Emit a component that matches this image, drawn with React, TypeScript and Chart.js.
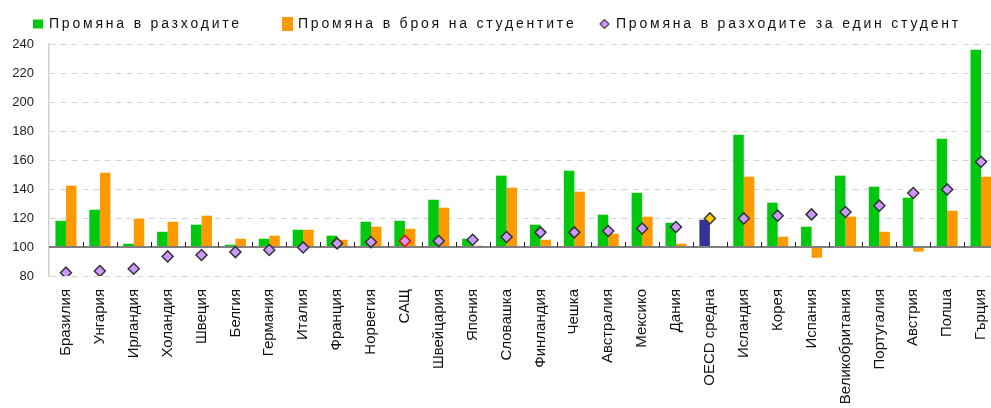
import React, { useEffect, useRef } from 'react';
import { Chart, registerables } from 'chart.js';

Chart.register(...registerables);

const FONT = '"Liberation Sans", Arial, sans-serif';

const categories = [
  'Бразилия', 'Унгария', 'Ирландия', 'Холандия', 'Швеция', 'Белгия', 'Германия',
  'Италия', 'Франция', 'Норвегия', 'САЩ', 'Швейцария', 'Япония', 'Словашка',
  'Финландия', 'Чешка', 'Австралия', 'Мексико', 'Дания', 'OECD средна',
  'Исландия', 'Корея', 'Испания', 'Великобритания', 'Португалия', 'Австрия',
  'Полша', 'Гърция',
];

const seriesLabels = [
  'Промяна в разходите',
  'Промяна в броя на студентите',
  'Промяна в разходите за един студент',
];

const expenditureChange = [
  118.1, 125.7, 102.3, 110.5, 115.4, 101.6, 105.7, 111.9, 107.8, 117.4, 118.1,
  132.6, 105.7, 149.2, 115.4, 152.6, 122.3, 137.4, 116.7, 118.8, 177.4, 130.6,
  114.0, 149.2, 141.6, 134.0, 174.7, 236.0,
];

const studentChange = [
  142.3, 151.2, 119.5, 117.4, 121.6, 105.7, 107.8, 111.9, 105.0, 114.0, 112.6,
  127.1, 100.9, 140.9, 105.0, 138.1, 109.2, 120.9, 102.3, null, 148.5, 107.1,
  92.6, 120.9, 110.5, 96.8, 125.0, 148.5,
];

const perStudentChange = [
  82.3, 83.4, 85.0, 93.5, 94.5, 96.5, 97.9, 99.7, 102.5, 103.4, 104.1, 104.1,
  105.0, 106.9, 110.1, 110.1, 111.0, 112.8, 113.8, 119.7, 119.7, 121.6, 122.5,
  124.1, 128.5, 137.2, 139.7, 158.8,
];

const yMin = 80;
const yMax = 240;
const yStep = 20;
const baseValue = 100;

const GREEN = '#00c80f';
const ORANGE = '#ff9900';
const BLUE = '#333399';
const LAVENDER = '#cc99ff';
const GOLD = '#ffcc00';
const OECD = 'OECD средна';
const USA = 'САЩ';

const legendStarts = [33, 282, 600];

const legendPlugin = {
  id: 'customLegend',
  afterDraw(chart: any) {
    const ctx = chart.ctx;
    const ds = chart.data.datasets;
    ctx.save();
    ctx.font = `14px ${FONT}`;
    (ctx as any).letterSpacing = '2.8px';
    ctx.textBaseline = 'middle';
    ctx.textAlign = 'left';
    const y = 24;
    const markers = [
      { kind: 'box', color: GREEN, w: 10, h: 9, gap: 6 },
      { kind: 'box', color: ORANGE, w: 11, h: 14, gap: 5 },
      { kind: 'diamond', color: LAVENDER, w: 9, h: 9, gap: 7 },
    ];
    ds.forEach((d: any, i: number) => {
      const m = markers[i];
      let x = legendStarts[i];
      if (m.kind === 'box') {
        ctx.fillStyle = m.color;
        ctx.fillRect(x, y - m.h / 2, m.w, m.h);
      } else {
        const cx = x + 4.5;
        ctx.beginPath();
        ctx.moveTo(cx - 4.5, y);
        ctx.lineTo(cx, y - 4.5);
        ctx.lineTo(cx + 4.5, y);
        ctx.lineTo(cx, y + 4.5);
        ctx.closePath();
        ctx.fillStyle = m.color;
        ctx.fill();
        ctx.strokeStyle = '#444';
        ctx.lineWidth = 1.2;
        ctx.stroke();
      }
      x += m.w + m.gap;
      ctx.fillStyle = '#111';
      ctx.fillText(d.label, x, y);
    });
    ctx.restore();
  },
};

const baselinePlugin = {
  id: 'baseline',
  beforeDatasetDraw(chart: any, args: any) {
    if (args.index !== 2) return;
    const { ctx, chartArea, scales } = chart;
    const xs = scales.x;
    const y100 = scales.y.getPixelForValue(baseValue);
    ctx.save();
    ctx.strokeStyle = '#7f7f7f';
    ctx.lineWidth = 2;
    ctx.beginPath();
    ctx.moveTo(chartArea.left, y100);
    ctx.lineTo(chartArea.right, y100);
    ctx.stroke();
    ctx.strokeStyle = '#222';
    ctx.lineWidth = 1;
    for (let i = 1; i < categories.length; i++) {
      const xb = Math.round((xs.getPixelForValue(i - 1) + xs.getPixelForValue(i)) / 2) + 0.5;
      ctx.beginPath();
      ctx.moveTo(xb, y100 - 5);
      ctx.lineTo(xb, y100);
      ctx.stroke();
    }
    ctx.restore();
  },
};

export default function App() {
  const canvasRef = useRef<HTMLCanvasElement | null>(null);

  useEffect(() => {
    if (!canvasRef.current) return;
    const chart = new Chart(canvasRef.current, {
      type: 'bar',
      data: {
        labels: categories,
        datasets: [
          {
            type: 'bar',
            label: seriesLabels[0],
            data: expenditureChange,
            base: baseValue,
            backgroundColor: categories.map((c) => (c === OECD ? BLUE : GREEN)),
            order: 1,
          } as any,
          {
            type: 'bar',
            label: seriesLabels[1],
            data: studentChange,
            base: baseValue,
            backgroundColor: ORANGE,
            order: 1,
          } as any,
          {
            type: 'line',
            label: seriesLabels[2],
            data: perStudentChange,
            showLine: false,
            pointStyle: 'rectRot',
            pointRadius: 5.5,
            pointHoverRadius: 5.5,
            pointBorderWidth: 1.5,
            pointBackgroundColor: categories.map((c) => (c === OECD ? GOLD : LAVENDER)),
            pointBorderColor: categories.map((c) => (c === USA ? '#ff0000' : '#333333')),
            order: 0,
          } as any,
        ],
      },
      options: {
        animation: false,
        responsive: true,
        maintainAspectRatio: false,
        layout: { padding: { left: 12, right: 1, top: 44, bottom: 0 } },
        datasets: { bar: { categoryPercentage: 0.62, barPercentage: 1 } },
        plugins: {
          legend: { display: false },
          tooltip: { enabled: false },
        },
        scales: {
          x: {
            offset: true,
            grid: { display: false, drawTicks: true, tickLength: 13 },
            border: { display: false },
            ticks: {
              autoSkip: false,
              minRotation: 90,
              maxRotation: 90,
              padding: 0,
              color: '#111',
              font: { size: 15, family: FONT },
            },
            afterFit: (s: any) => {
              s.height = 132;
              s.paddingLeft = 0;
              s.paddingRight = 0;
            },
          },
          y: {
            min: yMin,
            max: yMax,
            ticks: {
              stepSize: yStep,
              padding: 15,
              color: '#222',
              font: { size: 13, family: FONT },
            },
            grid: {
              color: (c: any) => (c.tick && c.tick.value === baseValue ? 'rgba(0,0,0,0)' : '#d6d6d6'),
              lineWidth: 1,
              drawTicks: false,
            },
            border: { display: true, color: '#d0d0d0', width: 1.5, dash: [6, 5] },
            afterFit: (s: any) => {
              s.width = 37;
              s.paddingTop = 0;
              s.paddingBottom = 0;
            },
          },
        },
      } as any,
      plugins: [legendPlugin, baselinePlugin],
    });
    return () => chart.destroy();
  }, []);

  return (
    <div
      style={{
        position: 'fixed',
        left: 0,
        top: 0,
        width: 991,
        height: 408,
        overflow: 'hidden',
        background: '#fff',
      }}
    >
      <div style={{ position: 'absolute', left: 0, top: 0, width: 1005, height: 408 }}>
        <canvas ref={canvasRef} />
      </div>
    </div>
  );
}
